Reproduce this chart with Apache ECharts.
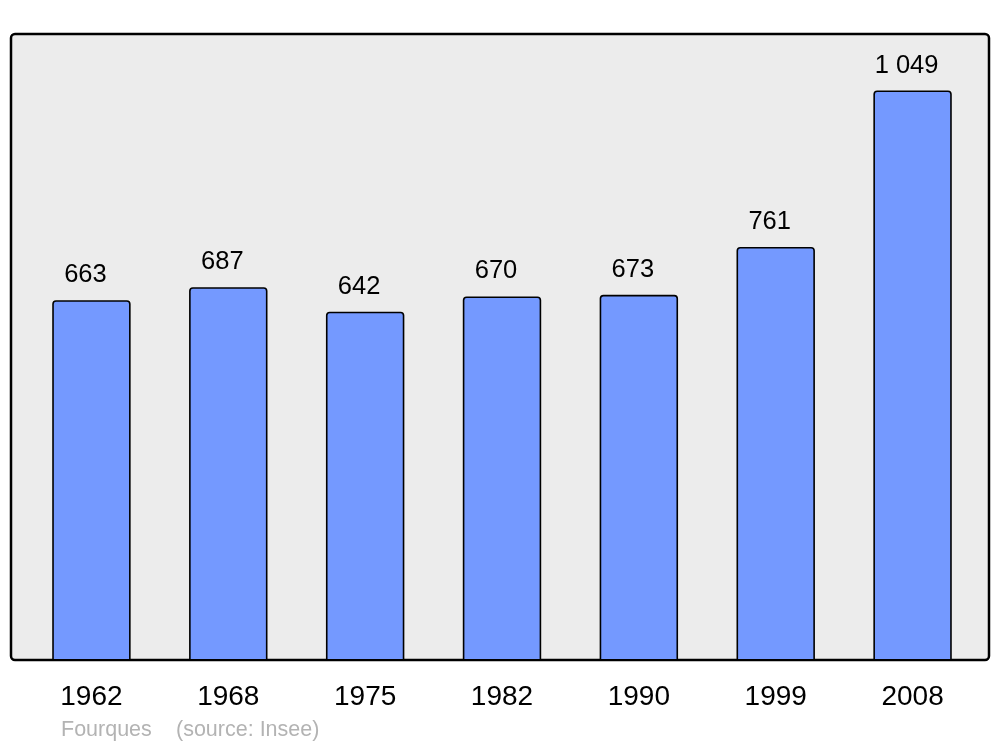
<!DOCTYPE html>
<html>
<head>
<meta charset="utf-8">
<script src="https://cdn.jsdelivr.net/npm/echarts@6/dist/echarts.min.js"></script>
<style>
html,body{margin:0;padding:0;background:#ffffff;}
#chart{width:1000px;height:747px;}
</style>
</head>
<body>
<div id="chart"></div>
<script>
const years = ['1962', '1968', '1975', '1982', '1990', '1999', '2008'];
const population = [663, 687, 642, 670, 673, 761, 1049];
const placeName = 'Fourques';
const sourceNote = '(source: Insee)';

const fmt = v => {
  const s = String(v);
  return s.length > 3 ? s.slice(0, s.length - 3) + ' ' + s.slice(-3) : s;
};

const chart = echarts.init(document.getElementById('chart'), null, {renderer: 'canvas'});
chart.setOption({
  animation: false,
  backgroundColor: '#ffffff',
  textStyle: {fontFamily: 'Liberation Sans, Arial, sans-serif'},
  grid: {left: 23, right: 19, top: 34, bottom: 86.5, show: false},
  graphic: [
    {type: 'rect', z: -10, silent: true,
     shape: {x: 11, y: 34, width: 978, height: 626, r: 4},
     style: {fill: '#ececec', stroke: '#000000', lineWidth: 2.5}},
    {type: 'text', left: 61, top: 719.5, silent: true,
     style: {text: placeName, fill: '#b3b3b3', font: '21.5px "Liberation Sans", Arial, sans-serif'}},
    {type: 'text', left: 176, top: 719.5, silent: true,
     style: {text: sourceNote, fill: '#b3b3b3', font: '21.5px "Liberation Sans", Arial, sans-serif'}}
  ],
  xAxis: {
    type: 'category',
    data: years,
    axisLine: {show: false},
    axisTick: {show: false},
    axisLabel: {fontSize: 28, color: '#000000', margin: 23, fontFamily: 'Liberation Sans'}
  },
  yAxis: {
    type: 'value',
    min: 0,
    max: 1153,
    show: false,
    splitLine: {show: false}
  },
  series: [{
    type: 'bar',
    data: population,
    barWidth: '57.3%',
    itemStyle: {color: '#7499ff', borderColor: '#000000', borderWidth: 1.6, borderRadius: [3, 3, 0, 0]},
    label: {
      show: true,
      position: 'top',
      distance: 12,
      offset: [-6, 0],
      fontSize: 25.5,
      color: '#000000',
      fontFamily: 'Liberation Sans',
      formatter: p => fmt(p.value)
    }
  }]
});
</script>
</body>
</html>
